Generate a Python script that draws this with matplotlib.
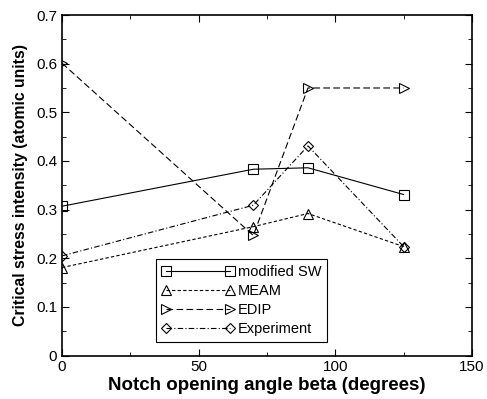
import numpy as np
import matplotlib
matplotlib.use("Agg")
import matplotlib.pyplot as plt
from matplotlib.ticker import MultipleLocator

plt.rcParams["font.family"] = ["Liberation Sans", "DejaVu Sans"]

angulo = [0, 70, 90, 125]
modified_sw = [0.307, 0.383, 0.386, 0.331]
meam = [0.181, 0.265, 0.292, 0.224]
edip = [0.601, 0.247, 0.550, 0.550]
experimento = [0.205, 0.309, 0.431, 0.224]

series = [
    ("modified SW", modified_sw, "s", "-"),
    ("MEAM", meam, "^", (0, (3, 2))),
    ("EDIP", edip, ">", (0, (6, 3))),
    ("Experiment", experimento, "D", (0, (5, 2, 1, 2))),
]

fig = plt.figure(figsize=(4.87, 3.99), dpi=100)
ax = fig.add_axes([0.1273, 0.1088, 0.8418, 0.8536])

for nome, valores, marcador, estilo in series:
    ax.plot(
        angulo,
        valores,
        color="black",
        linestyle=estilo,
        linewidth=0.8,
        marker=marcador,
        markersize=7 if marcador != "D" else 5.5,
        markerfacecolor="none",
        markeredgewidth=0.8,
        label=nome,
    )

ax.set_xlim(0, 150)
ax.set_ylim(0, 0.7)
ax.xaxis.set_major_locator(MultipleLocator(50))
ax.xaxis.set_minor_locator(MultipleLocator(25))
ax.yaxis.set_major_locator(MultipleLocator(0.1))
ax.yaxis.set_minor_locator(MultipleLocator(0.05))
ax.set_xticks([0, 50, 100, 150], ["0", "50", "100", "150"])
ax.set_yticks(np.arange(0, 0.71, 0.1), ["0", "0.1", "0.2", "0.3", "0.4", "0.5", "0.6", "0.7"])
ax.tick_params(which="both", direction="in", top=True, right=True, labelsize=11)
ax.tick_params(which="major", length=5)
ax.tick_params(which="minor", length=3)
for spine in ax.spines.values():
    spine.set_linewidth(1.2)

ax.set_xlabel("Notch opening angle beta (degrees)", fontsize=13.5, fontweight="bold", labelpad=2)
ax.set_ylabel("Critical stress intensity (atomic units)", fontsize=11.3, fontweight="bold", labelpad=6)

leg = ax.legend(
    loc="lower left",
    bbox_to_anchor=(0.229, 0.04),
    fontsize=10.5,
    numpoints=2,
    handlelength=5.0,
    handletextpad=0.2,
    labelspacing=0.35,
    borderpad=0.4,
    borderaxespad=0,
    fancybox=False,
    framealpha=1,
    edgecolor="black",
)
leg.get_frame().set_linewidth(0.8)

fig.savefig("out.png", dpi=100)
